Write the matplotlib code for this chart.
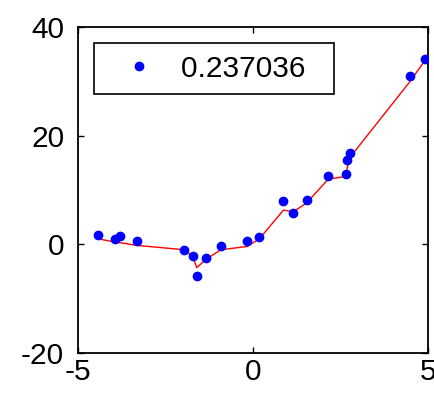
import numpy as np
import matplotlib
matplotlib.use('Agg')
import matplotlib.pyplot as plt

# data points
x_pts = [-4.42, -3.94, -3.80, -3.32, -1.96, -1.72, -1.61, -1.35, -0.92, -0.17,
         0.18, 0.87, 1.15, 1.53, 2.15, 2.65, 2.69, 2.77, 4.49, 4.93]
y_pts = [1.8, 0.9, 1.5, 0.6, -1.1, -2.2, -5.9, -2.6, -0.3, 0.7,
         1.3, 8.0, 5.7, 8.2, 12.6, 12.9, 15.5, 16.9, 31.0, 34.1]
# smoothed fit at the same x
y_fit = [1.0, 0.4, 0.3, -0.2, -1.0, -2.3, -4.3, -2.8, -1.0, -0.4,
         1.0, 6.3, 6.0, 7.6, 12.0, 12.5, 14.0, 16.0, 30.0, 34.0]
label = '0.237036'

plt.rcParams['font.family'] = ['Liberation Sans', 'DejaVu Sans']
plt.rcParams['axes.unicode_minus'] = False

fig = plt.figure(figsize=(4.34, 3.93), dpi=100)
ax = fig.add_axes([0.180, 0.102, 0.806, 0.829])

ax.plot(x_pts, y_pts, 'o', color='blue', markersize=6, label=label + '  ', zorder=3)
ax.plot(x_pts, y_fit, '-', color='red', linewidth=1.0, zorder=2)

ax.set_xlim(-5, 5)
ax.set_ylim(-20, 40)
ax.set_xticks([-5, 0, 5])
ax.set_yticks([-20, 0, 20, 40])
ax.tick_params(direction='in', length=4, width=1, top=True, right=True,
               labelsize=21.5, colors='black')
ax.tick_params(axis='x', pad=4)
ax.tick_params(axis='y', pad=10)
for s in ax.spines.values():
    s.set_linewidth(1.3)

leg = ax.legend(loc='upper left', bbox_to_anchor=(0.046, 0.951), fontsize=21.5,
                frameon=True, fancybox=False, edgecolor='black', framealpha=1,
                handlelength=2.24, handletextpad=0.28, borderpad=0.39,
                numpoints=1, borderaxespad=0)
leg.get_frame().set_linewidth(1.2)

fig.savefig('out.png', dpi=100)
